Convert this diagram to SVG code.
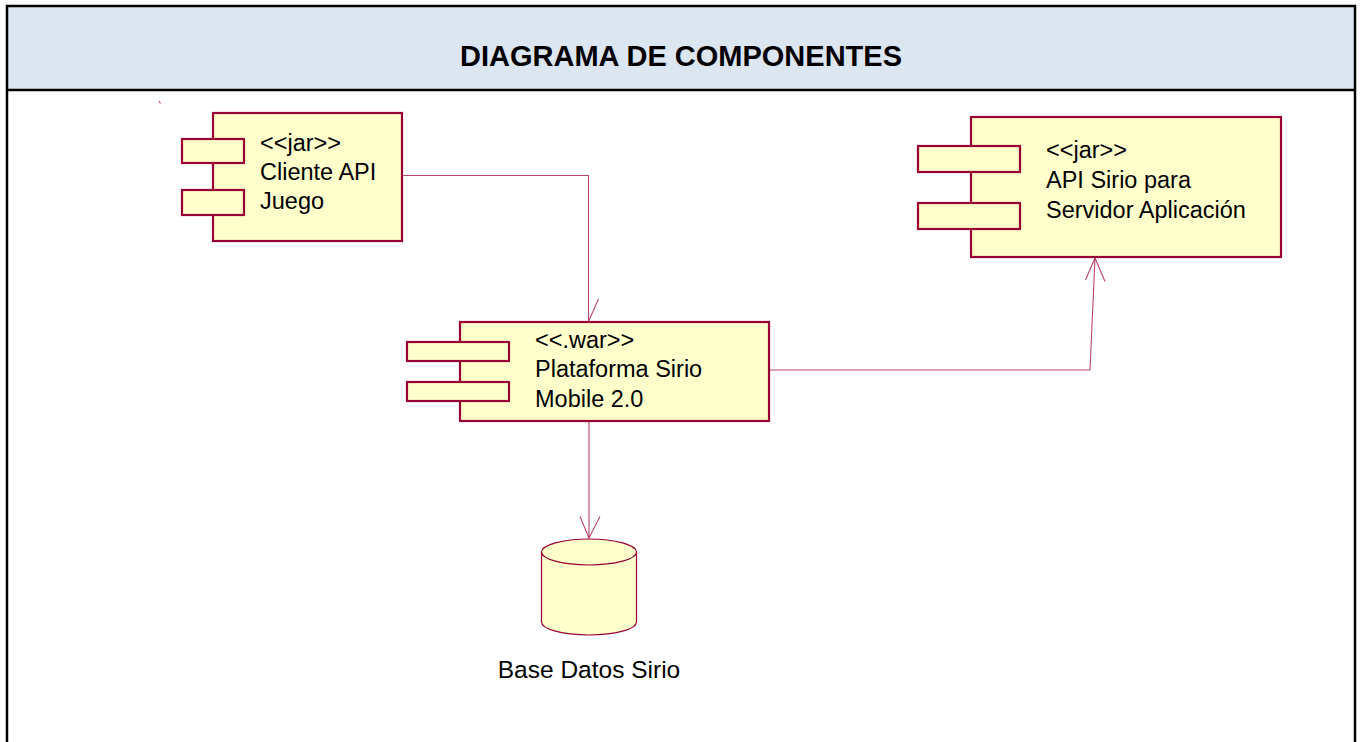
<svg xmlns="http://www.w3.org/2000/svg" width="1363" height="742" viewBox="0 0 1363 742">
<style>
.body{fill:#ffffcc;stroke:#990033;stroke-width:2.2}
.tab{fill:#ffffcc;stroke:#990033;stroke-width:2.2}
.lbl{font-family:"Liberation Sans",Arial,sans-serif;font-size:23.5px;fill:#000}
.conn{fill:none;stroke:#a8184c;stroke-width:1.1;stroke-opacity:0.8}
.db{fill:#ffffcc;stroke:#990033;stroke-width:1.2}
</style>
<rect x="0" y="0" width="1363" height="742" fill="#ffffff"/>
<g id="frame">
<rect x="7" y="6" width="1348" height="84" fill="#dce6f1"/>
<path d="M7 760 V6 H1355 V760" fill="none" stroke="#000" stroke-width="2.5"/>
<line x1="7" y1="90" x2="1355" y2="90" stroke="#000" stroke-width="2.5"/>
<text x="681" y="66" text-anchor="middle" font-family="Liberation Sans,Arial,sans-serif" font-weight="bold" font-size="29">DIAGRAMA DE COMPONENTES</text>
</g>
<g id="connectors">
<line class="conn" x1="159" y1="101" x2="160.5" y2="103.5"/>
<polyline class="conn" points="402,175.5 588.5,175.5 588.5,321.5"/>
<line class="conn" x1="598.5" y1="299" x2="588.5" y2="321.5"/>
<polyline class="conn" points="769,370 1090,370 1095,258"/>
<polyline class="conn" points="1085.5,280 1095,258 1105,281.5"/>
<line class="conn" x1="589" y1="421" x2="589" y2="538"/>
<polyline class="conn" points="580,516.5 589,538 600,516.5"/>
</g>
<g id="cliente-api-juego">
<rect class="body" x="213" y="113" width="189" height="128"/>
<rect class="tab" x="182" y="139" width="62" height="24"/>
<rect class="tab" x="182" y="190" width="62" height="25"/>
<text class="lbl" x="260" y="150.5">&lt;&lt;jar&gt;&gt;</text>
<text class="lbl" x="260" y="180">Cliente API</text>
<text class="lbl" x="260" y="209">Juego</text>
</g>
<g id="api-sirio-servidor">
<rect class="body" x="971" y="117" width="310" height="140"/>
<rect class="tab" x="918" y="146" width="102" height="26"/>
<rect class="tab" x="918" y="203" width="102" height="26"/>
<text class="lbl" x="1046" y="158">&lt;&lt;jar&gt;&gt;</text>
<text class="lbl" x="1046" y="188">API Sirio para</text>
<text class="lbl" x="1046" y="217.5">Servidor Aplicación</text>
</g>
<g id="plataforma-sirio">
<rect class="body" x="460" y="322" width="309" height="99"/>
<rect class="tab" x="407" y="342" width="102" height="19"/>
<rect class="tab" x="407" y="382" width="102" height="19"/>
<text class="lbl" x="535" y="347.5">&lt;&lt;.war&gt;&gt;</text>
<text class="lbl" x="535" y="377">Plataforma Sirio</text>
<text class="lbl" x="535" y="406.5">Mobile 2.0</text>
</g>
<g id="base-datos-sirio">
<path class="db" d="M541.5 552 V622 A47.5 13 0 0 0 636.5 622 V552"/>
<ellipse class="db" cx="589" cy="552" rx="47.5" ry="13"/>
<text class="lbl" x="589" y="678" text-anchor="middle" style="font-size:24.5px">Base Datos Sirio</text>
</g>
</svg>
